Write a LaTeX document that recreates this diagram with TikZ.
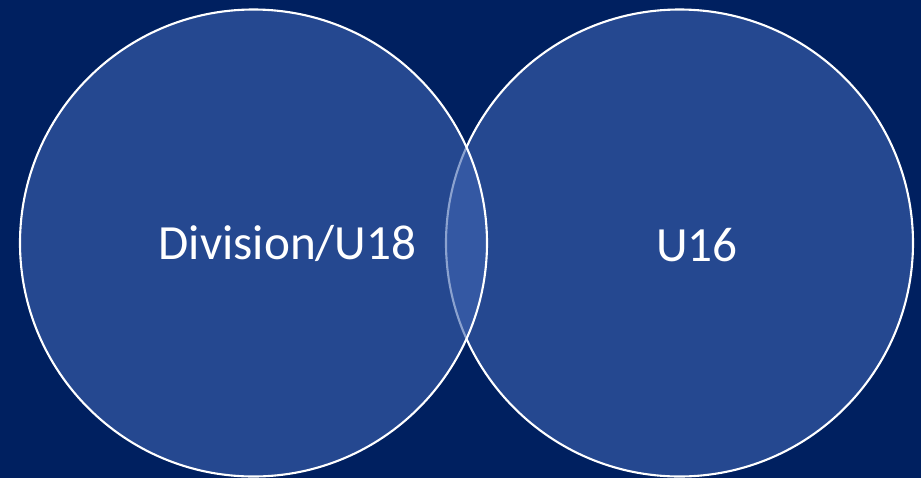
\documentclass[tikz,border=0pt]{standalone}
\usepackage{fontspec}
\setmainfont{Carlito}
\usepackage{tikz}

\definecolor{navybg}{RGB}{0,32,96}
\definecolor{setblue}{RGB}{62,100,176}

\begin{document}
\begin{tikzpicture}[x=0.02cm,y=-0.02cm,
    setcircle/.style={draw=white,line width=1.2pt,fill=setblue,fill opacity=0.6},
    setlabel/.style={text=white,font=\fontsize{28}{32}\selectfont}]
                    \fill[navybg] (0,0) rectangle (921,478);
                    \useasboundingbox (0,0) rectangle (921,478);

                    \draw[setcircle] (679.5,243) circle [radius=233.5];
                    \draw[setcircle] (253.5,243) circle [radius=233.5];

                    \node[setlabel] (div) at (287.5,243) {Division/U18};
                    \node[setlabel] (u16) at (697,245) {U16};
                \end{tikzpicture}
\end{document}
